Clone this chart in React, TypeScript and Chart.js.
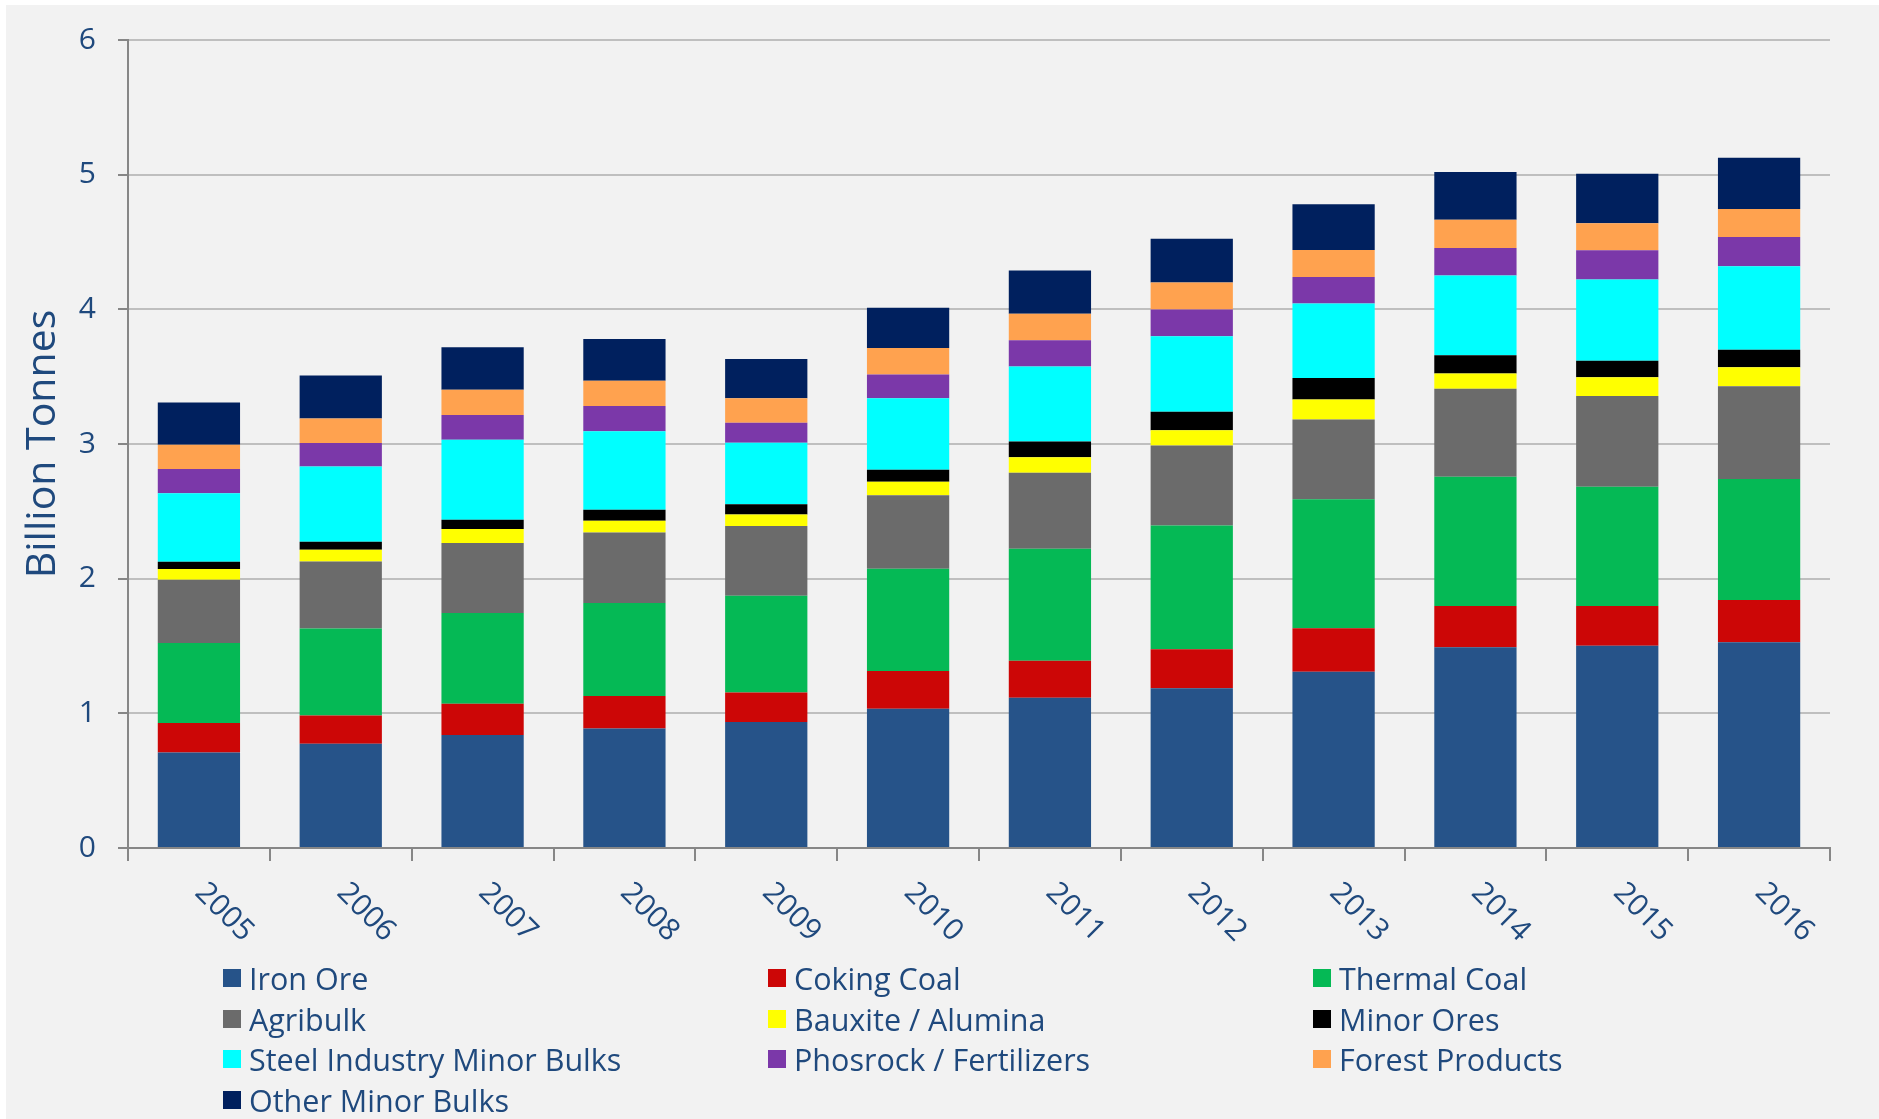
import React, { useEffect, useRef } from "react";
import { Chart, registerables } from "chart.js";

Chart.register(...registerables);

// ---- Data ----
const years = ["2005", "2006", "2007", "2008", "2009", "2010", "2011", "2012", "2013", "2014", "2015", "2016"];

const ironOre = [0.71, 0.774, 0.839, 0.887, 0.935, 1.034, 1.115, 1.187, 1.308, 1.491, 1.501, 1.528];
const cokingCoal = [0.218, 0.21, 0.232, 0.241, 0.22, 0.28, 0.275, 0.289, 0.323, 0.306, 0.296, 0.313];
const thermalCoal = [0.594, 0.646, 0.674, 0.691, 0.718, 0.76, 0.833, 0.918, 0.959, 0.96, 0.885, 0.899];
const agribulk = [0.47, 0.498, 0.519, 0.524, 0.518, 0.546, 0.564, 0.595, 0.592, 0.653, 0.674, 0.688];
const bauxiteAlumina = [0.079, 0.086, 0.104, 0.088, 0.086, 0.099, 0.114, 0.114, 0.149, 0.113, 0.14, 0.142];
const minorOres = [0.054, 0.06, 0.069, 0.081, 0.075, 0.089, 0.117, 0.136, 0.159, 0.136, 0.122, 0.13];
const steelMinorBulks = [0.51, 0.559, 0.594, 0.583, 0.457, 0.532, 0.557, 0.561, 0.554, 0.592, 0.603, 0.619];
const phosrockFertilizers = [0.179, 0.174, 0.184, 0.188, 0.148, 0.177, 0.196, 0.199, 0.196, 0.204, 0.217, 0.218];
const forestProducts = [0.18, 0.182, 0.187, 0.186, 0.183, 0.196, 0.197, 0.2, 0.2, 0.211, 0.201, 0.208];
const otherMinorBulks = [0.314, 0.32, 0.316, 0.311, 0.292, 0.298, 0.32, 0.326, 0.341, 0.354, 0.368, 0.381];

const seriesNames = [
  "Iron Ore",
  "Coking Coal",
  "Thermal Coal",
  "Agribulk",
  "Bauxite / Alumina",
  "Minor Ores",
  "Steel Industry Minor Bulks",
  "Phosrock / Fertilizers",
  "Forest Products",
  "Other Minor Bulks",
];
const seriesValues = [
  ironOre,
  cokingCoal,
  thermalCoal,
  agribulk,
  bauxiteAlumina,
  minorOres,
  steelMinorBulks,
  phosrockFertilizers,
  forestProducts,
  otherMinorBulks,
];
const seriesColors = [
  "#265389",
  "#CC0606",
  "#05B955",
  "#6B6B6B",
  "#FFFF00",
  "#000000",
  "#00FFFF",
  "#7B38A9",
  "#FFA24F",
  "#00205E",
];

const yMin = 0;
const yMax = 6;
const yStep = 1;
const yTitle = "Billion Tonnes";

// ---- Styles ----
const TEXT = "#1F497D";
const FONT = '"Open Sans", "Noto Sans", sans-serif';
const W = 1873;
const H = 1114;
const AREA_TOP = 35;
const AREA_BOTTOM = 843;

const xLabelPlugin = {
  id: "rotatedXLabels",
  afterDraw(chart: any) {
    const ctx = chart.ctx;
    const xs = chart.scales.x;
    const base = chart.chartArea.bottom;
    ctx.save();
    ctx.font = `30px ${FONT}`;
    ctx.fillStyle = TEXT;
    ctx.textAlign = "left";
    ctx.textBaseline = "middle";
    years.forEach((label, i) => {
      const px = xs.getPixelForValue(i);
      ctx.save();
      ctx.translate(px + 1, base + 40);
      ctx.rotate(Math.PI / 4);
      ctx.fillText(label, 0, 0);
      ctx.restore();
    });
    ctx.restore();
  },
};

export default function App() {
  const canvasRef = useRef<HTMLCanvasElement | null>(null);

  useEffect(() => {
    let chart: Chart | null = null;
    let cancelled = false;
    const make = () => {
      if (cancelled || !canvasRef.current) return;
      chart = new Chart(canvasRef.current, {
        type: "bar",
        data: {
          labels: years,
          datasets: seriesNames.map((name, i) => ({
            label: name,
            data: seriesValues[i],
            backgroundColor: seriesColors[i],
            borderWidth: 0,
            categoryPercentage: 1,
            barPercentage: 0.58,
          })),
        },
        options: {
          animation: false,
          responsive: false,
          devicePixelRatio: 1,
          layout: { padding: { top: AREA_TOP, right: 49, left: 0, bottom: 0 } },
          plugins: {
            legend: { display: false },
            tooltip: { enabled: false },
          },
          scales: {
            x: {
              stacked: true,
              ticks: { display: false },
              grid: {
                display: true,
                drawOnChartArea: false,
                drawTicks: true,
                tickLength: 13,
                color: "#878787",
                lineWidth: 2,
              },
              border: { display: true, color: "#878787", width: 2 },
              afterFit: (scale: any) => {
                scale.height = H - AREA_BOTTOM;
                scale.paddingLeft = 0;
                scale.paddingRight = 0;
              },
            },
            y: {
              stacked: true,
              min: yMin,
              max: yMax,
              ticks: {
                stepSize: yStep,
                padding: 22,
                color: TEXT,
                font: { family: FONT, size: 30 },
              },
              grid: {
                color: "#BFBFBF",
                lineWidth: 2,
                drawTicks: true,
                tickLength: 10,
                tickColor: "#878787",
              },
              border: { display: true, color: "#878787", width: 2 },
              title: {
                display: true,
                text: yTitle,
                color: TEXT,
                font: { family: FONT, size: 41 },
                padding: { top: 13, bottom: 0 },
              },
              afterFit: (scale: any) => {
                scale.width = 122;
                scale.paddingTop = 0;
                scale.paddingBottom = 0;
              },
            },
          },
        },
        plugins: [xLabelPlugin],
      });
    };
    if ((document as any).fonts && (document as any).fonts.load) {
      Promise.all([
        (document as any).fonts.load(`30px "Open Sans"`),
        (document as any).fonts.load(`41px "Open Sans"`),
      ])
        .catch(() => undefined)
        .then(make);
    } else {
      make();
    }
    return () => {
      cancelled = true;
      if (chart) chart.destroy();
    };
  }, []);

  const rowCenters = [973, 1014, 1054, 1095];
  const colLefts = [217, 762, 1307];

  return (
    <div
      style={{
        position: "absolute",
        left: 6,
        top: 5,
        width: W,
        height: H,
        background: "#F2F2F2",
        overflow: "hidden",
      }}
    >
      <canvas ref={canvasRef} width={W} height={H} style={{ display: "block" }} />
      {seriesNames.map((name, i) => {
        const col = i % 3;
        const row = Math.floor(i / 3);
        return (
          <div
            key={name}
            style={{
              position: "absolute",
              left: colLefts[col],
              top: rowCenters[row] - 20,
              height: 40,
              display: "flex",
              alignItems: "center",
              fontFamily: FONT,
              fontSize: 30.5,
              color: TEXT,
              whiteSpace: "nowrap",
            }}
          >
            <span
              style={{
                display: "inline-block",
                width: 18,
                height: 18,
                background: seriesColors[i],
                marginRight: 8,
              }}
            />
            <span>{name}</span>
          </div>
        );
      })}
    </div>
  );
}
